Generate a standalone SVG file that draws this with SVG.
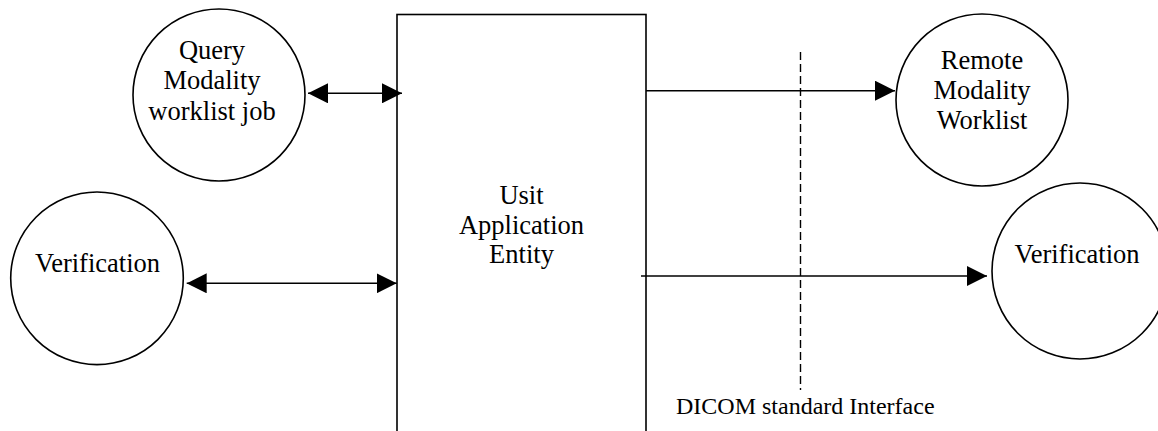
<svg xmlns="http://www.w3.org/2000/svg" width="1158" height="431" viewBox="0 0 1158 431">
<style>
.n{fill:#fff;stroke:#000;stroke-width:1.6}
.t{font-family:"Liberation Serif","Times New Roman",serif;font-size:26.5px;fill:#000;text-anchor:middle}
.c{stroke:#000;stroke-width:1.6;fill:none}
.d{stroke:#000;stroke-width:1.4;stroke-dasharray:8,4;fill:none}
</style>
<defs>
<marker id="ae" markerUnits="userSpaceOnUse" markerWidth="20" markerHeight="20" refX="20" refY="10" orient="auto"><path d="M0,0 L20,10 L0,20 z" fill="#000"/></marker>
<marker id="as" markerUnits="userSpaceOnUse" markerWidth="20" markerHeight="20" refX="0" refY="10" orient="auto"><path d="M20,0 L0,10 L20,20 z" fill="#000"/></marker>
</defs>
<rect width="1158" height="431" fill="#fff"/>
<g id="ae-box">
<rect class="n" x="397" y="14.5" width="249" height="430"/>
<text class="t" x="521.5" y="203.5">Usit</text>
<text class="t" x="521.5" y="233.5">Application</text>
<text class="t" x="521.5" y="263">Entity</text>
</g>
<g id="query">
<circle class="n" cx="219" cy="95" r="86"/>
<text class="t" x="212" y="58.5">Query</text>
<text class="t" x="212" y="89">Modality</text>
<text class="t" x="212" y="119.5">worklist job</text>
</g>
<g id="verif-left">
<circle class="n" cx="97" cy="278.3" r="86.3"/>
<text class="t" x="97.5" y="272.3">Verification</text>
</g>
<g id="remote">
<circle class="n" cx="982" cy="100" r="86"/>
<text class="t" x="982" y="68.5">Remote</text>
<text class="t" x="982" y="99.3">Modality</text>
<text class="t" x="982" y="129.3">Worklist</text>
</g>
<g id="verif-right">
<circle class="n" cx="1080" cy="271" r="88"/>
<text class="t" x="1077" y="263">Verification</text>
</g>
<g id="interface">
<line class="d" x1="800.5" y1="52" x2="800.5" y2="390"/>
<text x="676" y="414" font-family="'Liberation Serif','Times New Roman',serif" font-size="24" fill="#000">DICOM standard Interface</text>
</g>
<g id="connectors">
<line class="c" x1="308" y1="93.3" x2="402" y2="93.3" marker-start="url(#as)" marker-end="url(#ae)"/>
<line class="c" x1="186.7" y1="283.3" x2="396.7" y2="283.3" marker-start="url(#as)" marker-end="url(#ae)"/>
<line class="c" x1="646" y1="90.7" x2="895" y2="90.7" marker-end="url(#ae)"/>
<line class="c" x1="641" y1="276" x2="987" y2="276" marker-end="url(#ae)"/>
</g>
</svg>
